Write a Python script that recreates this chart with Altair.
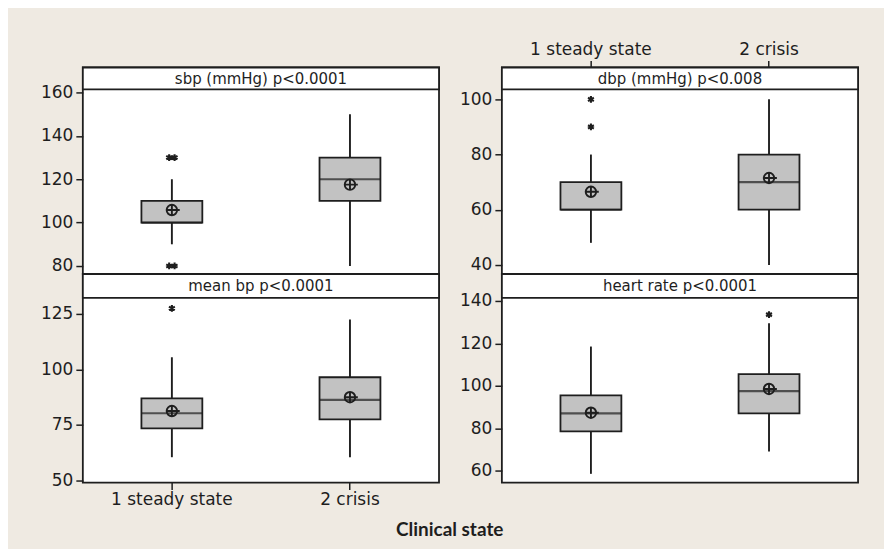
import altair as alt
import pandas as pd

# ---------------- data ----------------
STATES = ["1 steady state", "2 crisis"]
PANELS = ["sbp (mmHg) p<0.0001", "dbp (mmHg) p<0.008",
          "mean bp p<0.0001", "heart rate p<0.0001"]

q1 = [[100, 110], [60, 60], [73.5, 77.5], [78.5, 87]]
median = [[100, 120], [60, 70], [80.3, 86.3], [87, 97.5]]
q3 = [[110, 130], [70, 80], [87, 96.5], [95.5, 105.5]]
whisker_lo = [[90, 80], [48, 40], [60.5, 60.5], [58.5, 69]]
whisker_hi = [[120, 150], [80, 100], [105.5, 122.5], [118.5, 129.5]]
mean = [[105.8, 117.5], [66.5, 71.5], [81.3, 87.5], [87.3, 98.5]]

# outliers: (panel index, state index, value, number of coincident points)
out_panel = [0, 0, 1, 1, 2, 3]
out_state = [0, 0, 0, 0, 0, 1]
out_value = [130, 80, 100, 90, 127.5, 133.5]
out_count = [2, 2, 1, 1, 1, 1]

# axis ranges of the plotting region (below the strip) and tick values
y_low = [76.3, 36.7, 49.1, 54.4]
y_high = [161.4, 103.6, 132.2, 141.4]
y_ticks = [[80, 100, 120, 140, 160], [40, 60, 80, 100],
           [50, 75, 100, 125], [60, 80, 100, 120, 140]]

# ---------------- styling ----------------
W = 357
HEIGHTS = [207, 207, 209, 209]
STRIPS = [22, 22, 24, 24]
BOX_W = 61
INK = "#1e1e1e"
BG = "#efeae2"
FONT = "DejaVu Sans"

MEAN_PATH = "M-1,0A1,1,0,1,0,1,0A1,1,0,1,0,-1,0M-1,0L1.5,0M0,-1L0,1"
STAR1 = "M0,-1L0,1M-0.87,-0.5L0.87,0.5M-0.87,0.5L0.87,-0.5"
STAR2 = ("M-0.8,-1L-0.8,1M-1.67,-0.5L0.07,0.5M-1.67,0.5L0.07,-0.5"
         "M0.8,-1L0.8,1M-0.07,-0.5L1.67,0.5M-0.07,0.5L1.67,-0.5")


def panel(i, xaxis):
    H, STRIP = HEIGHTS[i], STRIPS[i]
    df = pd.DataFrame({
        "state": STATES,
        "q1": q1[i], "median": median[i], "q3": q3[i],
        "lo": whisker_lo[i], "hi": whisker_hi[i], "mean": mean[i],
    })
    odf = pd.DataFrame({
        "state": [STATES[s] for p, s in zip(out_panel, out_state) if p == i],
        "value": [v for p, v in zip(out_panel, out_value) if p == i],
        "n": [str(c) for p, c in zip(out_panel, out_count) if p == i],
    })
    lo, hi = y_low[i], y_high[i]
    hi_view = hi + STRIP * (hi - lo) / (H - STRIP)
    yscale = alt.Scale(domain=[lo, hi_view], nice=False, zero=False)
    yaxis = alt.Axis(values=y_ticks[i], title=None, grid=False, domain=False,
                     tickSize=7, tickWidth=1.5, tickColor=INK,
                     labelFont=FONT, labelFontSize=17, labelColor=INK,
                     labelPadding=3)
    xscale = alt.Scale(domain=STATES, paddingInner=0.658, paddingOuter=0.329)
    x = alt.X("state:N", scale=xscale, axis=xaxis, sort=STATES)

    base = alt.Chart(df)
    whisk = base.mark_rule(color=INK, strokeWidth=1.9).encode(
        x=x, y=alt.Y("lo:Q", scale=yscale, axis=yaxis), y2="hi:Q")
    box = base.mark_bar(fill="#c2c2c2", stroke=INK, strokeWidth=1.8).encode(
        x=x, y=alt.Y("q1:Q", scale=yscale, axis=yaxis), y2="q3:Q")
    med = base.mark_tick(color=INK, size=BOX_W, thickness=2.2,
                         orient="horizontal").encode(
        x=x, y=alt.Y("median:Q", scale=yscale, axis=yaxis))
    mn = base.mark_point(shape=MEAN_PATH, size=110, filled=False,
                         stroke=INK, strokeWidth=1.9, opacity=1).encode(
        x=x, y=alt.Y("mean:Q", scale=yscale, axis=yaxis))
    layers = [whisk, box, med, mn]
    if len(odf):
        outl = alt.Chart(odf).mark_point(filled=False, size=46, stroke=INK,
                                         strokeWidth=2.1, opacity=1).encode(
            x=x, y=alt.Y("value:Q", scale=yscale, axis=yaxis),
            shape=alt.Shape("n:N", scale=alt.Scale(domain=["1", "2"],
                                                   range=[STAR1, STAR2]),
                            legend=None))
        layers.append(outl)
    sdf = pd.DataFrame({"label": [PANELS[i]]})
    strip = alt.Chart(sdf).mark_rect(fill="white", stroke=INK,
                                     strokeWidth=1.8).encode(
        x=alt.value(0), x2=alt.value(W), y=alt.value(0), y2=alt.value(STRIP))
    stext = alt.Chart(sdf).mark_text(font=FONT, fontSize=15, color=INK,
                                     baseline="middle", align="center").encode(
        x=alt.value(W / 2), y=alt.value(STRIP / 2 + 0.5), text="label:N")
    layers += [strip, stext]
    return alt.layer(*layers).properties(width=W, height=H)


def xax(orient):
    return alt.Axis(orient=orient, title=None, labelAngle=0, domain=False,
                    grid=False, tickSize=7, tickWidth=1.5, tickColor=INK,
                    labelFont=FONT, labelFontSize=17, labelColor=INK,
                    labelPadding=2)


charts = [panel(0, None), panel(1, xax("top")),
          panel(2, xax("bottom")), panel(3, None)]

chart = alt.concat(
    *charts, columns=2, spacing={"row": 0, "column": 63}, bounds="flush"
).properties(
    background=BG,
    padding={"left": 31, "top": 31, "right": 24, "bottom": 8},
    title=alt.TitleParams("Clinical state", orient="bottom", anchor="middle",
                          font="Lato", fontSize=19, fontWeight="bold",
                          color=INK, offset=13),
).configure_view(stroke=INK, strokeWidth=1.8, fill="white")

chart.save("out.html", embed_options={"renderer": "svg", "actions": False})
